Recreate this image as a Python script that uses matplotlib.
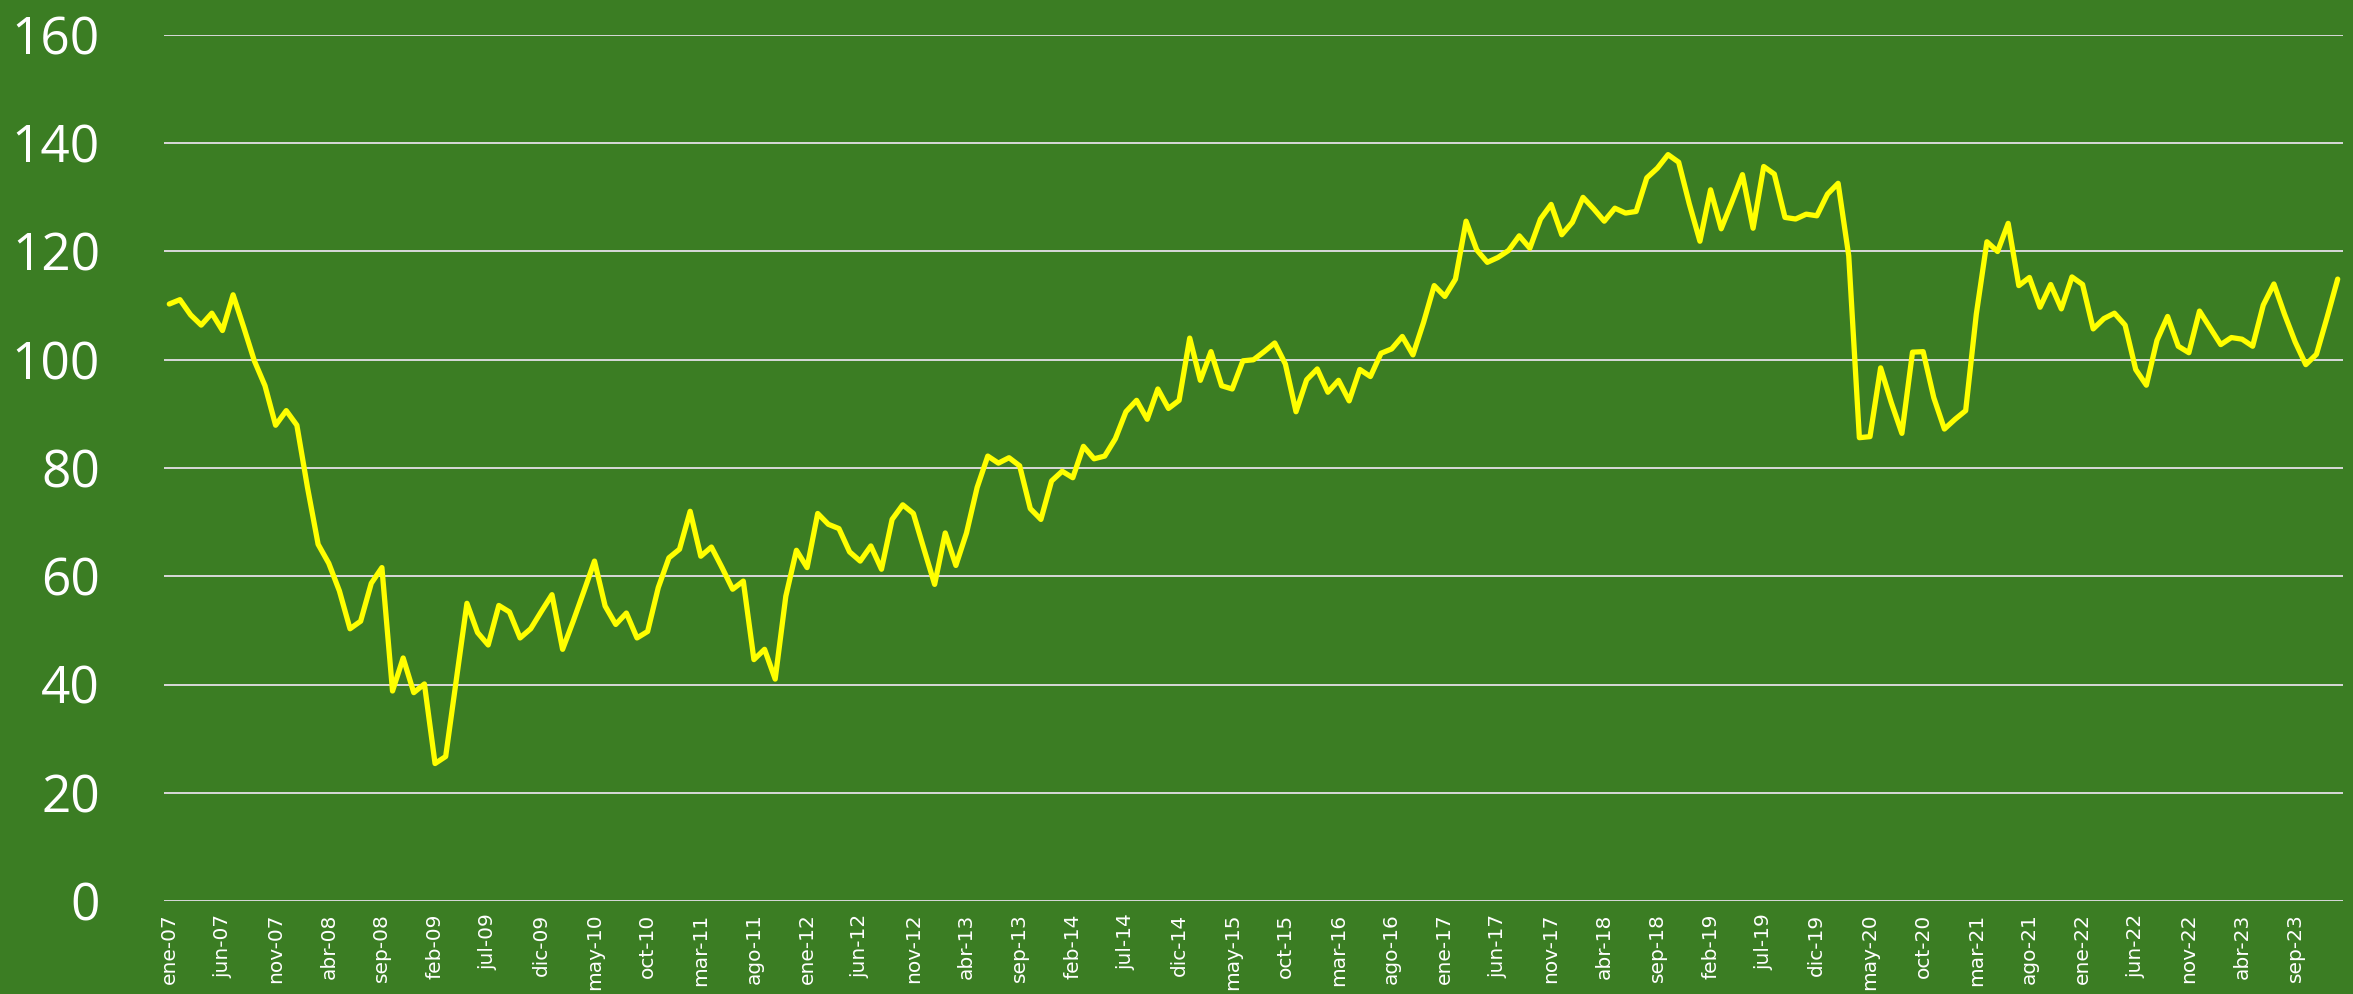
import matplotlib
matplotlib.use("Agg")
import matplotlib.pyplot as plt
import matplotlib.transforms as mtransforms
import numpy as np

# Monthly index, ene-07 .. ene-24
month_abbr = ["ene", "feb", "mar", "abr", "may", "jun",
              "jul", "ago", "sep", "oct", "nov", "dic"]
start_year = 2007
n_months = 205

values = [
    110.3, 111.1, 108.3, 106.4, 108.6, 105.4, 112.0, 106.0, 99.8, 95.2, 87.9, 90.6,
    87.9, 76.4, 65.9, 62.4, 57.3, 50.3, 51.7, 58.7, 61.6, 38.8, 44.9, 38.5,
    40.1, 25.4, 26.7, 40.9, 55.0, 49.6, 47.3, 54.6, 53.4, 48.6, 50.3, 53.5,
    56.6, 46.5, 51.7, 57.2, 62.8, 54.5, 51.1, 53.2, 48.6, 49.8, 57.9, 63.4,
    65.0, 72.0, 63.7, 65.4, 61.6, 57.6, 59.1, 44.6, 46.5, 41.0, 56.3, 64.8,
    61.6, 71.6, 69.6, 68.8, 64.5, 62.8, 65.6, 61.3, 70.5, 73.2, 71.6, 65.0,
    58.5, 68.0, 62.0, 68.0, 76.4, 82.2, 80.9, 81.9, 80.4, 72.5, 70.5, 77.6,
    79.4, 78.2, 84.0, 81.7, 82.2, 85.4, 90.4, 92.5, 89.0, 94.6, 91.0, 92.5,
    104.0, 96.2, 101.5, 95.2, 94.6, 99.8, 100.0, 101.5, 103.1, 99.2, 90.4, 96.3,
    98.3, 94.0, 96.2, 92.4, 98.2, 96.9, 101.2, 102.0, 104.3, 100.9, 106.9, 113.7,
    111.7, 114.9, 125.6, 120.3, 118.0, 118.9, 120.2, 122.9, 120.6, 126.0, 128.7, 123.1,
    125.4, 130.0, 127.9, 125.6, 128.0, 127.1, 127.4, 133.6, 135.4, 137.9, 136.5, 128.8,
    121.9, 131.4, 124.2, 129.1, 134.2, 124.3, 135.7, 134.3, 126.3, 126.0, 126.9, 126.6,
    130.6, 132.6, 119.2, 85.6, 85.8, 98.5, 92.1, 86.4, 101.4, 101.5, 93.0, 87.2,
    89.0, 90.6, 108.4, 121.8, 120.0, 125.2, 113.7, 115.2, 109.7, 113.9, 109.4, 115.3,
    113.9, 105.7, 107.6, 108.6, 106.4, 98.2, 95.3, 103.6, 108.0, 102.5, 101.3, 109.0,
    105.9, 102.8, 104.1, 103.8, 102.5, 110.1, 114.0, 108.4, 103.3, 99.1, 101.0, 107.8,
    114.9,
]

categories = [f"{month_abbr[k % 12]}-{(start_year + k // 12) % 100:02d}"
              for k in range(n_months)]
label_step = 5
y_ticks = [0, 20, 40, 60, 80, 100, 120, 140, 160]

bg = "#3B7D23"
line_color = "#FFFF00"
grid_color = "#D9D9D9"

fig = plt.figure(figsize=(23.53, 9.94), dpi=100, facecolor=bg)
ax = fig.add_axes([164 / 2353, 1 - 901 / 994, (2343 - 164) / 2353, (901 - 35) / 994])
ax.set_facecolor(bg)

x = np.arange(len(values))
ax.plot(x, values, color=line_color, linewidth=3.8, solid_joinstyle="round",
        solid_capstyle="round", zorder=3)

ax.set_xlim(-0.5, n_months - 0.5)
ax.set_ylim(0, 160)
ax.set_yticks(y_ticks)
ax.set_yticklabels([str(t) for t in y_ticks], fontfamily="Open Sans",
                   fontsize=37, color="white")
ax.yaxis.grid(True, color=grid_color, linewidth=1.4, zorder=1)
ax.set_axisbelow(True)

# value labels sit a little above their gridlines
lift = mtransforms.ScaledTranslation(0, 6 / 100, fig.dpi_scale_trans)
for lbl in ax.get_yticklabels():
    lbl.set_transform(lbl.get_transform() + lift)

tick_pos = list(range(0, n_months, label_step))
ax.set_xticks(tick_pos)
ax.set_xticklabels([categories[i] for i in tick_pos], rotation=90,
                   fontfamily="DejaVu Sans", fontsize=14.5, color="white")

ax.tick_params(axis="y", length=0, pad=46)
ax.tick_params(axis="x", length=0, pad=9)
for s in ax.spines.values():
    s.set_visible(False)

fig.savefig("out.png", dpi=100, facecolor=bg)
